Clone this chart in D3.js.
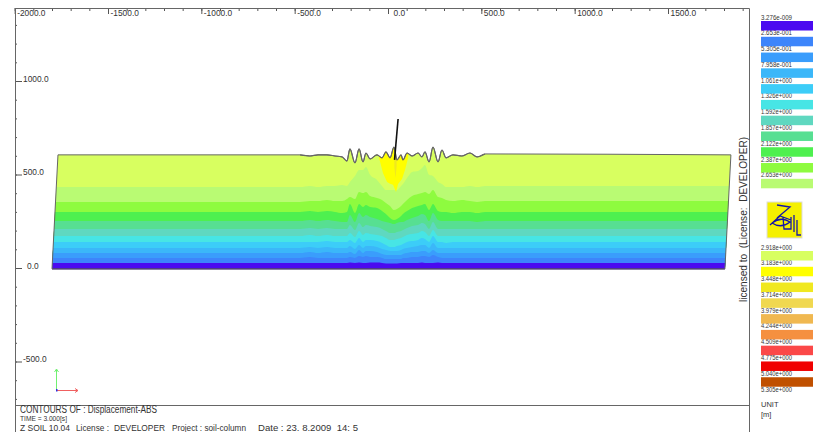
<!DOCTYPE html>
<html>
<head>
	<meta charset="utf-8">
	<title>Z_SOIL - Displacement-ABS</title>
	<script src="https://d3js.org/d3.v7.min.js"></script>
	<style>
		html, body { margin: 0; padding: 0; background: #fff; overflow: hidden; }
		text { font-family: "Liberation Sans", Arial, sans-serif; fill: #333; }
		.axis path, .axis line { stroke: #555; }
	</style>
</head>
<body>
	<svg id="chart" width="813" height="432"></svg>

	<script type="text/javascript">
		// Stations along the surface (m)
		const stations = [-1850, -471, -418, -375, -327, -284, -246, -220, -204, -177, -155, -134, -118, -96, -59, -32, -11, 11, 32, 48, 70, 80, 102, 129, 161, 182, 198, 220, 241, 268, 289, 311, 348, 396, 439, 477, 520, 1850];

		// Elevation of the surface and of each contour level (m), inner stations only
		const surface = [605, 599, 605, 605, 599, 594, 572, 637, 562, 637, 567, 615, 583, 605, 589, 621, 589, 647, 578, 605, 578, 615, 599, 615, 594, 621, 567, 647, 567, 631, 589, 605, 599, 615, 594, 610];
		const level1 = [433, 439, 433, 439, 439, 444, 439, 460, 492, 524, 524, 540, 498, 471, 439, 417, 417, 417, 417, 439, 449, 481, 514, 519, 535, 551, 498, 492, 460, 449, 433, 433, 433, 439, 433, 439];
		const level2 = [353, 358, 358, 364, 358, 358, 369, 380, 369, 407, 401, 407, 385, 375, 364, 348, 332, 310, 316, 332, 342, 364, 385, 396, 401, 407, 396, 417, 380, 375, 364, 358, 364, 358, 353, 358];
		const level3 = [300, 305, 300, 305, 300, 294, 300, 342, 294, 342, 326, 337, 326, 321, 305, 289, 268, 257, 262, 278, 289, 305, 321, 332, 337, 342, 310, 342, 305, 300, 300, 294, 300, 300, 294, 300];
		const level4 = [251, 257, 251, 257, 251, 246, 246, 284, 246, 294, 273, 284, 273, 262, 251, 246, 241, 235, 241, 246, 246, 257, 268, 278, 289, 284, 251, 294, 257, 251, 251, 251, 251, 251, 246, 251];
		const level5 = [209, 214, 209, 214, 209, 209, 209, 230, 203, 241, 219, 230, 225, 219, 209, 198, 187, 187, 193, 198, 203, 214, 225, 230, 241, 235, 209, 246, 209, 209, 209, 209, 209, 209, 209, 209];
		const level6 = [171, 177, 171, 177, 171, 171, 171, 187, 166, 198, 177, 187, 182, 177, 171, 160, 150, 150, 155, 160, 166, 177, 182, 187, 198, 193, 171, 203, 171, 171, 171, 171, 171, 171, 171, 171];
		const level7 = [139, 139, 139, 144, 139, 139, 139, 150, 134, 160, 139, 150, 150, 144, 134, 123, 112, 112, 118, 123, 128, 139, 144, 150, 160, 155, 139, 171, 139, 139, 134, 139, 139, 139, 139, 139];
		const level8 = [107, 112, 107, 112, 107, 107, 107, 118, 102, 123, 107, 118, 118, 112, 102, 96, 91, 91, 91, 96, 102, 107, 112, 118, 123, 123, 107, 134, 107, 107, 107, 107, 107, 107, 107, 107];
		const level9 = [80, 86, 80, 86, 80, 80, 80, 86, 75, 96, 80, 91, 91, 86, 75, 70, 70, 70, 70, 70, 75, 80, 86, 86, 91, 91, 80, 96, 80, 80, 80, 80, 80, 80, 80, 80];
		const level10 = [54, 59, 54, 54, 54, 54, 54, 59, 54, 64, 59, 64, 59, 59, 54, 48, 48, 48, 48, 48, 54, 54, 59, 59, 64, 64, 59, 70, 59, 54, 54, 54, 54, 54, 54, 54];
		const level11 = [27, 27, 27, 27, 27, 27, 27, 29, 27, 29, 27, 27, 29, 29, 27, 24, 24, 24, 24, 27, 27, 27, 27, 27, 29, 27, 27, 27, 29, 27, 27, 27, 27, 27, 27, 27];

		// Yellow bulb under the pile
		const bulbX = [-48, -27, -5, 11, 27, 43, 54, 75, 91, 108];
		const bulbBottom = [589, 508, 460, 450, 445, 407, 449, 476, 524, 589];
		const coreX = [34, 40, 46];
		const coreBottom = [540, 480, 540];

		// Pile and model corners (m)
		const pileX = [35, 54];
		const pileY = [578, 797];
		const cornerX = [-1768, -1800, 1805, 1837];
		const cornerY = [605, -5, -5, 605];

		const xMajor = [-2000, -1500, -1000, -500, 0, 500, 1000, 1500];
		const xMinor = d3.range(-2000, 2000, 100);
		const yMajor = [1000, 500, 0, -500];
		const yMinor = d3.range(-700, 1400, 100);

		const legendTop = ["3.276e-009", "2.653e-001", "5.305e-001", "7.958e-001", "1.061e+000", "1.326e+000", "1.592e+000", "1.857e+000", "2.122e+000", "2.387e+000", "2.653e+000"];
		const colorsTop = ["#4b0af0", "#3d85fb", "#3a9dfc", "#3bb7f9", "#3ccdf8", "#47e5e5", "#5fd8c0", "#57df92", "#4ef04f", "#8efb3f", "#b9fb73"];
		const legendBottom = ["2.918e+000", "3.183e+000", "3.448e+000", "3.714e+000", "3.979e+000", "4.244e+000", "4.509e+000", "4.775e+000", "5.040e+000", "5.305e+000"];
		const colorsBottom = ["#d8ff60", "#ffff00", "#f0e820", "#f0d850", "#f0b850", "#f59040", "#fb4848", "#f00000", "#c05000"];

		const svg = d3.select("#chart");
		const x = d3.scaleLinear().domain([0, 1500]).range([388, 668]);
		const y = d3.scaleLinear().domain([0, 1000]).range([268, 81]);

		// Adds the far-field value on both ends of a level
		function withEnds(level) {
			const all = [level[0]].concat(level, [level[level.length - 1]]);
			return stations.map(function(s, i) { return [s, all[i]]; });
		}

		const curve = d3.curveMonotoneX;
		const edge = d3.line().x(function(d) { return x(d[0]); }).y(function(d) { return y(d[1]); }).curve(curve);

		// Model outline: surface between the two top corners, then the slanted sides
		let surfacePts = withEnds(surface);
		surfacePts[0] = [cornerX[0], cornerY[0]];
		surfacePts[surfacePts.length - 1] = [cornerX[3], cornerY[3]];
		const outline = edge(surfacePts) + "L" + x(cornerX[2]) + "," + y(cornerY[2]) + "L" + x(cornerX[1]) + "," + y(cornerY[1]) + "Z";

		svg.append("clipPath").attr("id", "model").append("path").attr("d", outline);
		const model = svg.append("g").attr("clip-path", "url(#model)");

		// Bands painted top down, each one runs to the bottom of the model
		const levels = [surface.map(function() { return 700; }), level1, level2, level3, level4, level5, level6, level7, level8, level9, level10, level11];
		const bandColors = colorsBottom.slice(0, 1).concat(colorsTop.slice().reverse());

		const band = d3.area()
			.x(function(d) { return x(d[0]); })
			.y0(y(cornerY[1]))
			.y1(function(d) { return y(d[1]); })
			.curve(curve);

		levels.forEach(function(level, i) {
			model.append("path")
				.attr("d", band(withEnds(level)))
				.attr("fill", bandColors[i]);
		});

		// Yellow bulb, its top is cut by the surface clip
		const bulb = d3.area()
			.x(function(d) { return x(d[0]); })
			.y0(function(d) { return y(d[1]); })
			.y1(y(700));
		model.append("path")
			.attr("d", bulb(bulbX.map(function(v, i) { return [v, bulbBottom[i]]; })))
			.attr("fill", colorsBottom[1]);
		model.append("path")
			.attr("d", bulb(coreX.map(function(v, i) { return [v, coreBottom[i]]; })))
			.attr("fill", colorsBottom[2]);

		// Bottom edge, sides and surface
		svg.append("line")
			.attr("x1", x(cornerX[1])).attr("x2", x(cornerX[2]))
			.attr("y1", y(cornerY[1])).attr("y2", y(cornerY[2]))
			.attr("stroke", "#2c0a80").attr("stroke-width", 1);
		svg.append("path")
			.attr("d", outline)
			.attr("fill", "none")
			.attr("stroke", "#666")
			.attr("stroke-width", 1);
		svg.append("path")
			.attr("d", edge(surfacePts.slice(1, -1)))
			.attr("fill", "none")
			.attr("stroke", "#666")
			.attr("stroke-width", 1.2);

		// Pile
		svg.append("line")
			.attr("x1", x(pileX[0])).attr("x2", x(pileX[1]))
			.attr("y1", y(pileY[0])).attr("y2", y(pileY[1]))
			.attr("stroke", "#111").attr("stroke-width", 1.6);

		// Squeezes a text sideways, the original labels are narrow
		function squeeze(sel, factor) {
			sel.each(function() {
				const w = this.getComputedTextLength();
				d3.select(this)
					.attr("textLength", w * factor)
					.attr("lengthAdjust", "spacingAndGlyphs");
			});
		}

		// Axes
		const xAxisY = 8, yAxisX = 15;
		svg.append("g").attr("class", "axis")
			.attr("transform", "translate(0," + xAxisY + ")")
			.call(d3.axisBottom(x).tickValues(xMinor).tickSize(3).tickFormat(""))
			.call(function(g) { g.select(".domain").remove(); });
		const xTicks = svg.append("g").attr("class", "axis")
			.attr("transform", "translate(0," + xAxisY + ")")
			.call(d3.axisBottom(x).tickValues(xMajor).tickSize(6).tickFormat(function(d) { return d.toFixed(1); }));
		xTicks.select(".domain").remove();
		xTicks.selectAll("text")
			.attr("text-anchor", "start")
			.attr("x", function(d) { return d === 0 ? 5 : 2; }).attr("y", 1)
			.attr("dy", "0.71em")
			.style("font-size", "9.5px")
			.style("font-family", "inherit")
			.call(squeeze, 0.88);

		svg.append("g").attr("class", "axis")
			.attr("transform", "translate(" + yAxisX + ",0)")
			.call(d3.axisRight(y).tickValues(yMinor).tickSize(2).tickFormat(""))
			.call(function(g) { g.select(".domain").remove(); });
		const yTicks = svg.append("g").attr("class", "axis")
			.attr("transform", "translate(" + yAxisX + ",0)")
			.call(d3.axisRight(y).tickValues(yMajor).tickSize(7).tickFormat(function(d) { return d.toFixed(1); }));
		yTicks.select(".domain").remove();
		yTicks.selectAll("text")
			.attr("x", function(d) { return d === 0 ? 12 : 8; })
			.attr("dy", "0")
			.attr("y", 0)
			.style("font-size", "9.5px")
			.style("font-family", "inherit")
			.call(squeeze, 0.88);

		// Frame
		const frameLines = [[15, 432, 15, 8], [15, 8, 749, 8], [749, 8, 749, 432], [15, 405, 749, 405]];
		frameLines.forEach(function(f) {
			svg.append("line")
				.attr("x1", f[0] + 0.5).attr("y1", f[1] + 0.5)
				.attr("x2", f[2] + 0.5).attr("y2", f[3] + 0.5)
				.attr("stroke", "#666").attr("stroke-width", 1);
		});

		// Legend
		const legend = svg.append("g");
		function drawLegend(labels, colors, firstY) {
			const pos = d3.scaleLinear().domain([0, 1]).range([firstY, firstY + 15.78]);
			legend.selectAll(null).data(labels).enter().append("text")
				.attr("x", 761)
				.attr("y", function(d, i) { return pos(i); })
				.attr("textLength", 31)
				.attr("lengthAdjust", "spacingAndGlyphs")
				.style("font-size", "8px")
				.text(function(d) { return d; });
			legend.selectAll(null).data(colors).enter().append("rect")
				.attr("x", 761)
				.attr("y", function(d, i) { return pos(i) + 1.5; })
				.attr("width", 52)
				.attr("height", 9.5)
				.attr("fill", function(d) { return d; });
		}
		drawLegend(legendTop, colorsTop, 19.5);
		drawLegend(legendBottom, colorsBottom, 249.5);
		legend.append("text").attr("x", 761).attr("y", 407).style("font-size", "7.5px").text("UNIT");
		legend.append("text").attr("x", 761).attr("y", 417).style("font-size", "7.5px").text("[m]");

		// Logo
		const logo = svg.append("g").attr("transform", "translate(767,202)");
		logo.append("rect").attr("width", 35).attr("height", 36).attr("fill", "#f5f000").attr("stroke", "#ddd");
		logo.append("path")
			.attr("d", "M10,3 L23,5 L10,16 M3,23 L13,14 L24,18 M5,21 Q14,14 23,20 Q14,27 5,21 M16,15 L17,27 L24,27 L24,15 M27,13 L27,30 M30,18 L30,33 L34,33")
			.attr("fill", "none")
			.attr("stroke", "#1414a8")
			.attr("stroke-width", 1.3);

		// Texts around the plot
		svg.append("text")
			.attr("transform", "translate(747,302) rotate(-90)")
			.attr("textLength", 165)
			.attr("lengthAdjust", "spacingAndGlyphs")
			.style("font-size", "11px")
			.style("white-space", "pre")
			.text("licensed to  (License:  DEVELOPER)");

		const footerTexts = ["CONTOURS OF : Displacement-ABS", "TIME = 3.000[s]", "Z SOIL 10.04", "License :", "DEVELOPER", "Project : soil-column", "Date : 23. 8.2009  14: 5"];
		const footerX = [20, 20, 20, 76, 114, 172, 258];
		const footerY = [413, 421, 431, 431, 431, 431, 431];
		const footerW = [137, 47, 50, 33, 51, 74, 100];
		const footerSize = [10, 7.5, 9.5, 9.5, 9.5, 9.5, 9.5];
		footerTexts.forEach(function(t, i) {
			svg.append("text")
				.attr("x", footerX[i]).attr("y", footerY[i])
				.attr("textLength", footerW[i])
				.attr("lengthAdjust", "spacingAndGlyphs")
				.style("font-size", footerSize[i] + "px")
				.style("white-space", "pre")
				.text(t);
		});

		// Coordinate triad
		const triad = svg.append("g").attr("fill", "none").attr("stroke-width", 1);
		triad.append("path").attr("d", "M56.5,390 V369.5 M54.5,372 L56.5,369 L58.5,372").attr("stroke", "#70f070");
		triad.append("path").attr("d", "M56.5,390.5 H78 M75,388.5 L78,390.5 L75,392.5").attr("stroke", "#f06060");
		triad.append("rect").attr("x", 56).attr("y", 389).attr("width", 1.5).attr("height", 2.5).attr("fill", "#3030e0");
	</script>
</body>
</html>
